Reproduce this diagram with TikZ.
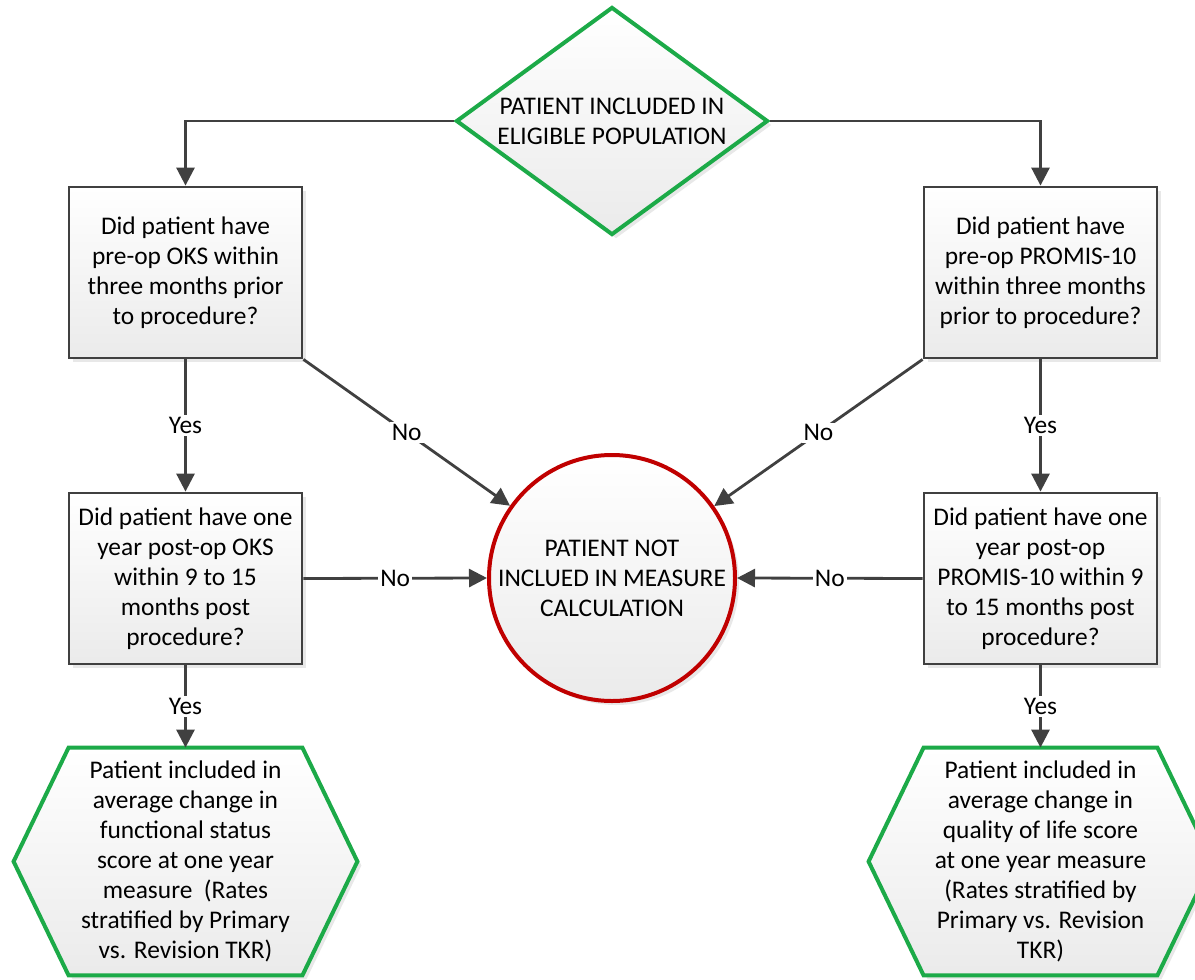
\documentclass[tikz,border=0pt]{standalone}
\usepackage{fontspec}
\setmainfont{Carlito}
\usetikzlibrary{shapes.geometric,arrows.meta,shadows,calc,backgrounds}
\definecolor{linegray}{RGB}{64,64,64}
\definecolor{okgreen}{RGB}{28,170,72}
\definecolor{nored}{RGB}{192,0,0}
\tikzset{
  >={Triangle[length=9pt,width=9pt]},
  x=0.5pt, y=-0.5pt,
}
\tikzstyle{every node}=[font=\fontsize{12.7}{15}\selectfont, align=center, text=black]
\tikzstyle{shade}=[top color=white, bottom color=black!8,
  drop shadow={opacity=0.18, shadow xshift=2pt, shadow yshift=-2pt}]
\tikzstyle{flow}=[->, line width=1.4pt, linegray]
\tikzstyle{question}=[rectangle, shade, draw=linegray, line width=1.4pt,
  minimum width=116.5pt, minimum height=85.5pt, inner sep=0pt]
\tikzstyle{decision}=[diamond, shade, draw=okgreen, line width=2pt, aspect=1.37,
  minimum width=156pt, minimum height=114pt, inner sep=0pt]
\tikzstyle{excluded}=[circle, shade, draw=nored, line width=2pt,
  minimum size=123pt, inner sep=0pt]
\tikzstyle{result}=[rectangle, minimum width=116.5pt, minimum height=113.5pt, inner sep=0pt]
\tikzstyle{hexline}=[shade, draw=okgreen, line width=2pt, line join=miter]
\tikzstyle{answer}=[fill=white, inner sep=1pt]

\begin{document}
\begin{tikzpicture}
  \useasboundingbox (0,0) rectangle (1195,980);
  \node[decision] (dia) at (612,121) {PATIENT INCLUDED IN\\ELIGIBLE POPULATION};
  \node[question] (okspre) at (185.5,272.5) {Did patient have\\pre-op OKS within\\three months prior\\to procedure?};
  \node[question] (prmpre) at (1040.5,272.5) {Did patient have\\pre-op PROMIS-10\\within three months\\prior to procedure?};
  \node[question] (okspost) at (185.5,578.5) {Did patient have one\\year post-op OKS\\within 9 to 15\\months post\\procedure?};
  \node[question] (prmpost) at (1040.5,578.5) {Did patient have one\\year post-op\\PROMIS-10 within 9\\to 15 months post\\procedure?};
  \node[excluded] (notinc) at (612,578) {PATIENT NOT\\INCLUED IN MEASURE\\CALCULATION};
  \node[result] (okspass) at (185.5,861.5) {Patient included in\\average change in\\functional status\\score at one year\\measure\ \ (Rates\\stratified by Primary\\vs. Revision TKR)};
  \node[result] (prmpass) at (1040.5,861.5) {Patient included in\\average change in\\quality of life score\\at one year measure\\(Rates stratified by\\Primary vs. Revision\\TKR)};
  % hexagons behind the result texts
  \begin{scope}[on background layer]
    \foreach \h in {okspass,prmpass}
      \draw[hexline] (\h.north west) -- (\h.north east) -- ($(\h.east)+(55,0)$)
        -- (\h.south east) -- (\h.south west) -- ($(\h.west)+(-55,0)$) -- cycle;
  \end{scope}
  \draw[flow] (dia.west) -| (okspre.north);
  \draw[flow] (dia.east) -| (prmpre.north);
  \draw[flow] (okspre.south) -- (okspost.north) node[midway,answer]{Yes};
  \draw[flow] (prmpre.south) -- (prmpost.north) node[midway,answer]{Yes};
  \draw[flow] (okspre.south east) -- (notinc) node[midway,answer]{No};
  \draw[flow] (prmpre.south west) -- (notinc) node[midway,answer]{No};
  \draw[flow] (okspost.east) -- (notinc.west) node[midway,answer]{No};
  \draw[flow] (prmpost.west) -- (notinc.east) node[midway,answer]{No};
  \draw[flow] (okspost.south) -- (okspass.north) node[midway,answer]{Yes};
  \draw[flow] (prmpost.south) -- (prmpass.north) node[midway,answer]{Yes};
\end{tikzpicture}
\end{document}
